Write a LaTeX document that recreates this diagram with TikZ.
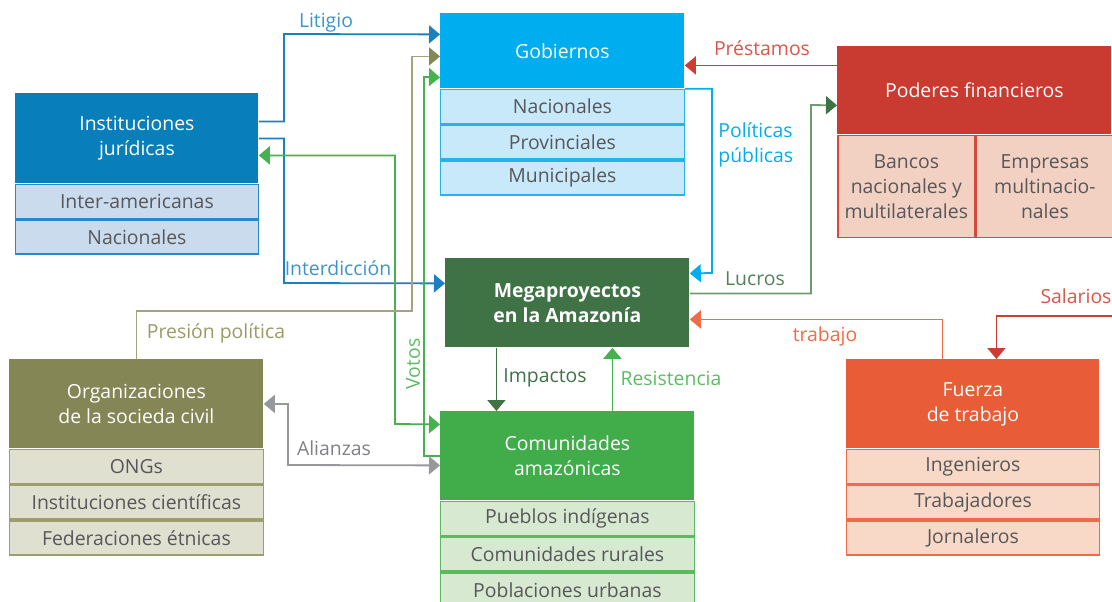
\documentclass[tikz,border=0pt]{standalone}
\usepackage{fontspec}
\setmainfont{Open Sans}
\usepackage{xcolor}
\usepackage{tikz}
\usetikzlibrary{shapes,arrows.meta,positioning}

\definecolor{txt}{HTML}{57575A}
\definecolor{insthead}{HTML}{087EBB}
\definecolor{instrow}{HTML}{CADBEE}
\definecolor{instline}{HTML}{2689C9}
\definecolor{gobhead}{HTML}{00AEEF}
\definecolor{gobrow}{HTML}{C7E9FA}
\definecolor{gobline}{HTML}{25B3EC}
\definecolor{podhead}{HTML}{C93A30}
\definecolor{podrow}{HTML}{F2D1C3}
\definecolor{podline}{HTML}{D44A3F}
\definecolor{megahead}{HTML}{3F7245}
\definecolor{comhead}{HTML}{40AD4A}
\definecolor{comrow}{HTML}{D7E9D1}
\definecolor{comline}{HTML}{5DB960}
\definecolor{orghead}{HTML}{848656}
\definecolor{orgrow}{HTML}{DFE0D0}
\definecolor{orgline}{HTML}{9C9E6E}
\definecolor{fzahead}{HTML}{E95C38}
\definecolor{fzarow}{HTML}{F8D9C7}
\definecolor{fzaline}{HTML}{EF6B47}
\definecolor{blueline}{HTML}{1B80C1}
\definecolor{bluelbl}{HTML}{3A95CF}
\definecolor{greenline}{HTML}{46B14F}
\definecolor{greenlbl}{HTML}{5CBB63}
\definecolor{oliveline}{HTML}{A3A47F}
\definecolor{olivelbl}{HTML}{999B66}
\definecolor{grayline}{HTML}{97989B}
\definecolor{graylbl}{HTML}{808184}
\definecolor{lucline}{HTML}{6E9B72}
\definecolor{luclbl}{HTML}{52815A}
\definecolor{redline}{HTML}{CC3D32}
\definecolor{redlbl}{HTML}{D8564B}
\definecolor{orangeline}{HTML}{EE6C47}

\begin{document}
\begin{tikzpicture}[x=0.5pt,y=-0.5pt]
				\tikzstyle{common} = [align=center, inner sep=0pt, node distance=0pt, font=\fontsize{9.7}{12.5}\selectfont]
				\tikzstyle{head} = [rectangle, common, anchor=north west, text=white, minimum height=44.5pt]
				\tikzstyle{row} = [rectangle, common, draw, line width=0.8pt, text=txt, minimum height=17pt]
				\tikzstyle{lbl} = [common]
				\tikzstyle{line} = [draw, line width=0.9pt, -{Triangle[length=5.5pt,width=9pt]}]
				\tikzstyle{dline} = [line, {Triangle[length=5.5pt,width=9pt]}-{Triangle[length=5.5pt,width=9pt]}]
				\useasboundingbox (0,0) rectangle (1112,601);

				\node[head, fill=insthead, minimum width=121.5pt, minimum height=45pt] (inst) at (15,93) {Instituciones\\jurídicas};
				\node[row, fill=instrow, draw=instline, minimum width=121.5pt, below=of inst] (inst1) {Inter-americanas};
				\node[row, fill=instrow, draw=instline, minimum width=121.5pt, below=of inst1] (inst2) {Nacionales};

				\node[head, fill=gobhead, minimum width=122pt, minimum height=37.5pt] (gob) at (440,13) {Gobiernos};
				\node[row, fill=gobrow, draw=gobline, minimum width=122pt, below=of gob] (gob1) {Nacionales};
				\node[row, fill=gobrow, draw=gobline, minimum width=122pt, below=of gob1] (gob2) {Provinciales};
				\node[row, fill=gobrow, draw=gobline, minimum width=122pt, below=of gob2] (gob3) {Municipales};

				\node[head, fill=podhead, minimum width=137pt, minimum height=44pt] (pod) at (837,46) {Poderes financieros};
				\node[row, fill=podrow, draw=podline, minimum width=68.5pt, minimum height=51pt, below right=of pod.south west] (pod1) {Bancos\\nacionales y\\multilaterales};
				\node[row, fill=podrow, draw=podline, minimum width=68.5pt, minimum height=51pt, right=of pod1] (pod2) {Empresas\\multinacio-\\nales};

				\node[head, fill=megahead, minimum width=122pt, font=\fontsize{9.7}{12.5}\selectfont\bfseries] (mega) at (445,258) {Megaproyectos\\en la Amazonía};

				\node[head, fill=comhead, minimum width=127pt] (comm) at (440,411) {Comunidades\\amazónicas};
				\node[row, fill=comrow, draw=comline, minimum width=127pt, below=of comm] (comm1) {Pueblos indígenas};
				\node[row, fill=comrow, draw=comline, minimum width=127pt, below=of comm1] (comm2) {Comunidades rurales};
				\node[row, fill=comrow, draw=comline, minimum width=127pt, below=of comm2] (comm3) {Poblaciones urbanas};

				\node[head, fill=orghead, minimum width=127pt] (org) at (9,359) {Organizaciones\\de la socieda civil};
				\node[row, fill=orgrow, draw=orgline, minimum width=127pt, below=of org] (org1) {ONGs};
				\node[row, fill=orgrow, draw=orgline, minimum width=127pt, below=of org1] (org2) {Instituciones científicas};
				\node[row, fill=orgrow, draw=orgline, minimum width=127pt, below=of org2] (org3) {Federaciones étnicas};

				\node[head, fill=fzahead, minimum width=126.5pt] (fza) at (846,359) {Fuerza\\de trabajo};
				\node[row, fill=fzarow, draw=fzaline, minimum width=126.5pt, below=of fza] (fza1) {Ingenieros};
				\node[row, fill=fzarow, draw=fzaline, minimum width=126.5pt, below=of fza1] (fza2) {Trabajadores};
				\node[row, fill=fzarow, draw=fzaline, minimum width=126.5pt, below=of fza2] (fza3) {Jornaleros};

				\coordinate (salin) at (1112,316);

				\draw[line, draw=blueline] ([yshift=8.5pt]inst.east) -| (284,34) -- ([yshift=8.25pt]gob.west);
				\draw[line, draw=blueline] (inst.east) -| (284,283) -- ([yshift=9.75pt]mega.west);
				\draw[dline, draw=greenline] ([yshift=-8.5pt]inst.east) -| (395,424) -- ([yshift=15.75pt]comm.west);
				\draw[line, draw=greenline] (comm.west) -| (424,77) -- ([yshift=-13.25pt]gob.west);
				\draw[line, draw=oliveline, -{Triangle[length=5.5pt,width=9pt,color=orghead]}] (org.north) |- (412,311) |- ([yshift=-2.75pt]gob.west);
				\draw[dline, draw=grayline] (org.east) -| (288,465) -- ([yshift=-4.75pt]comm.west);
				\draw[line, draw=redline] ([yshift=12.5pt]pod.west) -- ([yshift=12.5pt]pod.west -| gob.east);
				\draw[line, draw=gobhead] (gob.south east) -| (712,273) -- ([yshift=14.75pt]mega.east);
				\draw[line, draw=lucline, -{Triangle[length=5.5pt,width=9pt,color=megahead]}] ([yshift=4.75pt]mega.east) -| (811,105) -- ([yshift=-7.5pt]pod.west);
				\draw[line, draw=orangeline] ([xshift=-15.25pt]fza.north) |- ([yshift=-8.25pt]mega.east);
				\draw[line, draw=redline] (salin) -| ([xshift=11.75pt]fza.north);
				\draw[line, draw=megahead] ([xshift=-35.5pt]mega.south) -- ([xshift=-35.5pt]mega.south |- comm.north);
				\draw[line, draw=greenline] ([xshift=22.5pt]comm.north) -- ([xshift=22.5pt]comm.north |- mega.south);

				\node[lbl, text=bluelbl] (litigio) at (326,23) {Litigio};
				\node[lbl, text=bluelbl] (interd) at (338,268) {Interdicción};
				\node[lbl, text=olivelbl] (presion) at (216,333) {Presión política};
				\node[lbl, text=graylbl] (alianzas) at (334,448) {Alianzas};
				\node[lbl, text=greenlbl, rotate=90] (votos) at (413,364) {Votos};
				\node[lbl, text=redlbl] (prestamos) at (762,48) {Préstamos};
				\node[lbl, text=gobhead, anchor=west, align=left] (politicas) at (718,145) {Políticas\\públicas};
				\node[lbl, text=luclbl] (lucros) at (755,279) {Lucros};
				\node[lbl, text=orangeline] (trabajo) at (825,336) {trabajo};
				\node[lbl, text=redlbl] (salarios) at (1076,296) {Salarios};
				\node[lbl, text=megahead] (impactos) at (545,378) {Impactos};
				\node[lbl, text=greenlbl] (resist) at (671,378) {Resistencia};
\end{tikzpicture}
\end{document}
